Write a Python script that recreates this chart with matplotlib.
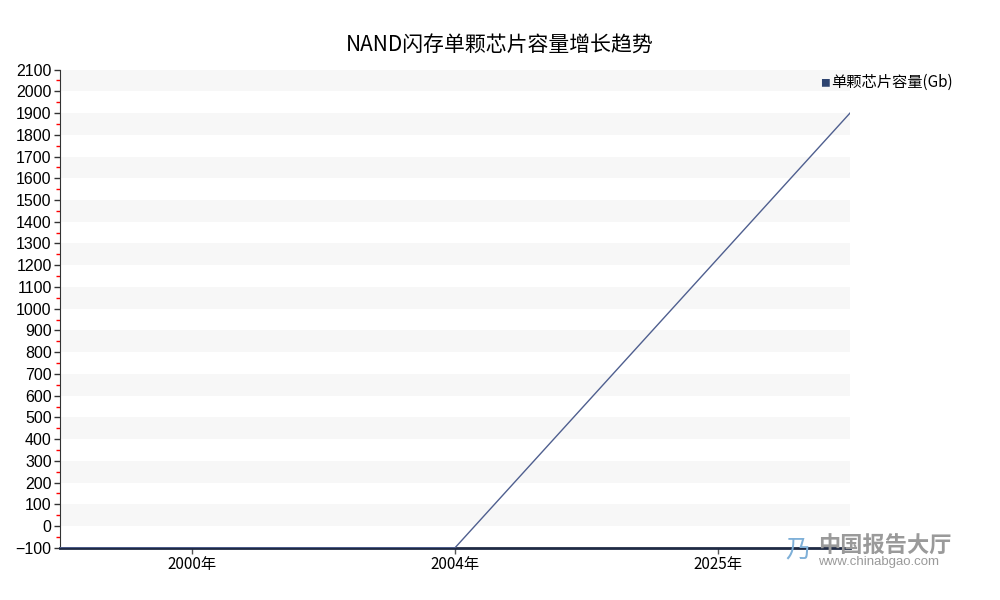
import matplotlib.pyplot as plt
import numpy as np

plt.rcParams['font.family'] = ['Noto Sans CJK SC', 'DejaVu Sans']

# data
years = ['2000年', '2004年', '2025年']
capacity = [-100, -100, 1900]
series_name = '单颗芯片容量(Gb)'
title = 'NAND闪存单颗芯片容量增长趋势'

fig = plt.figure(figsize=(10, 6), dpi=100)
ax = fig.add_axes([0.06, 0.087, 0.79, 0.797])

# the line runs edge to edge, labels sit at band centres
x = np.linspace(0, 1, len(capacity))
ax.plot(x, capacity, color='#4f5f8f', linewidth=1, zorder=3)

ax.set_xlim(0, 1)
ax.set_ylim(-100, 2100)

# striped background
for lo in range(0, 2100, 200):
    ax.axhspan(lo, lo + 100, color='#f7f7f7', zorder=0, linewidth=0)

ax.set_yticks(np.arange(-100, 2101, 100))
ax.set_yticks(np.arange(-50, 2100, 100), minor=True)
ax.tick_params(axis='y', which='major', length=4, width=1, color='#333333',
               labelsize=11.5, pad=2)
ax.tick_params(axis='y', which='minor', length=3, width=1, color='red')
for lab in ax.get_yticklabels():
    lab.set_family(['Liberation Sans', 'DejaVu Sans'])

n = len(years)
ax.set_xticks([(i + 0.5) / n for i in range(n)])
ax.set_xticklabels(years, fontsize=11)
ax.tick_params(axis='x', length=4, width=1, color='#555555', pad=2)

for s in ['top', 'right']:
    ax.spines[s].set_visible(False)
ax.spines['left'].set_color('#333333')
ax.spines['bottom'].set_color('#1f2a44')
ax.spines['bottom'].set_linewidth(2)

fig.text(0.5, 0.923, title, fontsize=15, ha='center', va='center')

fig.text(0.82, 0.862, '■', color='#2e4470', fontsize=7, va='center')
fig.text(0.831, 0.862, series_name, fontsize=11, va='center')

# watermark
fig.text(0.818, 0.09, '中国报告大厅', fontsize=16, color='#9a9a9a', va='center',
         fontweight='bold')
fig.text(0.818, 0.063, 'www.chinabgao.com', fontsize=9.5, color='#9a9a9a',
         va='center', family=['Liberation Sans', 'DejaVu Sans'])
fig.text(0.785, 0.085, '乃', fontsize=18, color='#7fb0d8', va='center')

fig.savefig('out.png', dpi=100)
